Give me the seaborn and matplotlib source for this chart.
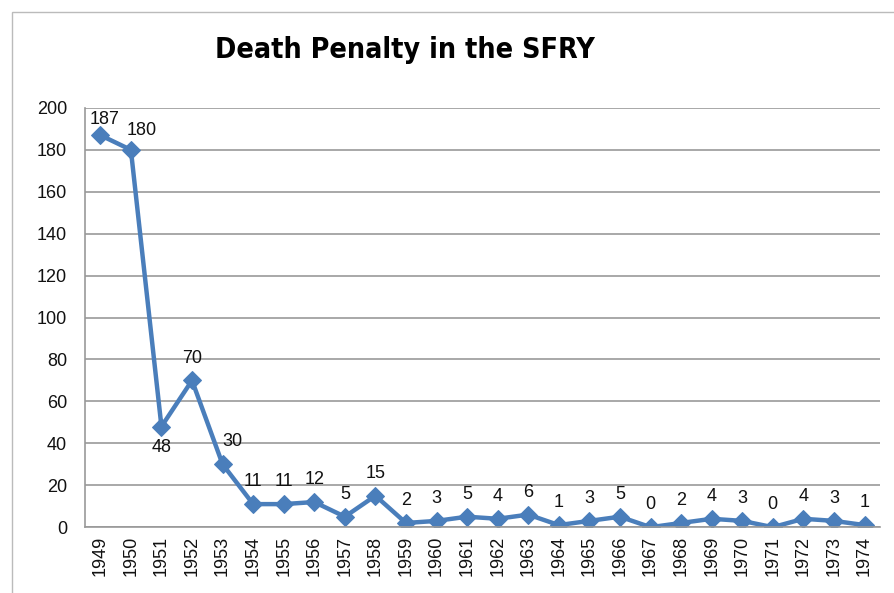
import pandas as pd
import numpy as np
import matplotlib.pyplot as plt
import seaborn as sns

# 数据
years = [str(y) for y in range(1949, 1975)]
executions = [187, 180, 48, 70, 30, 11, 11, 12, 5, 15, 2, 3, 5, 4, 6, 1, 3, 5, 0, 2, 4, 3, 0, 4, 3, 1]

df = pd.DataFrame({'year': years, 'count': executions})
df['pos'] = np.arange(len(df))

sns.set_style('white')
plt.rcParams['font.family'] = ['Liberation Sans', 'DejaVu Sans']

fig = plt.figure(figsize=(8.95, 5.93), dpi=100)
ax = fig.add_axes([0.095, 0.111, 0.888, 0.707])

sns.lineplot(data=df, x='pos', y='count', ax=ax, color='#4a7ebb', linewidth=3.2,
             marker='D', markersize=9, markeredgecolor='#4a7ebb', sort=False)

# 数据标签
for i, v in enumerate(executions):
    if i == 0:
        off, va = (3, 5), 'bottom'
    elif i == 1:
        off, va = (8, 8), 'bottom'
    elif i == 2:
        off, va = (0, -9), 'top'
    elif i == 4:
        off, va = (7, 10), 'bottom'
    else:
        off, va = (0, 10), 'bottom'
    ax.annotate(str(v), (i, v), xytext=off, textcoords='offset points',
                ha='center', va=va, fontsize=13, color='#111111')

ax.set_ylim(0, 200)
ax.set_yticks(range(0, 201, 20))
ax.set_xlim(-0.5, len(years) - 0.5)
ax.set_xticks(df['pos'])
ax.set_xticklabels(years, rotation=90, fontsize=13, color='#111111')
ax.set_xticks(np.arange(-0.5, len(years), 1), minor=True)
ax.tick_params(axis='x', which='major', length=0, pad=6)
ax.tick_params(axis='x', which='minor', length=7, color='#999999', width=1)
ax.tick_params(axis='y', labelsize=13, labelcolor='#111111', length=0, pad=13)
ax.grid(axis='y', color='#9a9a9a', linewidth=1.2)
ax.set_axisbelow(True)
for s in ['top', 'right']:
    ax.spines[s].set_visible(False)
for s in ['left', 'bottom']:
    ax.spines[s].set_color('#999999')
    ax.spines[s].set_linewidth(1.2)
ax.set_xlabel('')
ax.set_ylabel('')

fig.text(0.453, 0.915, 'Death Penalty in the SFRY', ha='center', va='center',
         fontsize=20.5, fontweight='bold', color='black',
         family=['Liberation Sans Narrow', 'DejaVu Sans'], fontstretch='condensed')

# 外框
fig.patches.append(plt.Rectangle((0.013, -0.01), 1.0, 0.99, transform=fig.transFigure,
                                 fill=False, edgecolor='#bbbbbb', linewidth=1))

fig.savefig('out.png', dpi=100)
